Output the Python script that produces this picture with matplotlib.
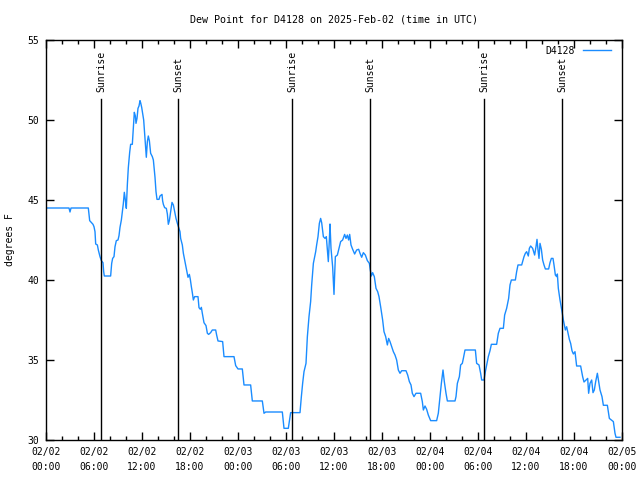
import matplotlib
matplotlib.use("Agg")
import matplotlib.pyplot as plt
import matplotlib.dates as mdates
import pandas as pd

BLUE = "#1a8cff"
plt.rcParams.update({
    "font.family": "DejaVu Sans Mono", "font.size": 7,
    "axes.linewidth": 1.0,
})

start = pd.Timestamp("2025-02-02 00:00")

# hours since 02/02 00:00 UTC, dew point in F
hours = [0.0, 2.875, 3.0, 3.125, 5.29, 5.46, 5.875, 6.0, 6.125, 6.21, 6.42, 6.54,
         6.75, 6.92, 7.125, 7.21, 7.29, 8.08, 8.21, 8.33, 8.5, 8.625, 8.79, 9.0,
         9.125, 9.25, 9.42, 9.54, 9.67, 9.79, 9.92, 10.04, 10.17, 10.29, 10.46,
         10.58, 10.79, 10.92, 11.04, 11.17, 11.25, 11.375, 11.5, 11.625, 11.75,
         11.83, 11.96, 12.08, 12.21, 12.33, 12.46, 12.54, 12.67, 12.79, 12.92,
         13.0, 13.08, 13.29, 13.42, 13.5, 13.625, 13.75, 13.875, 14.125, 14.25,
         14.5, 14.58, 14.67, 14.83, 15.04, 15.17, 15.29, 15.42, 15.58, 15.75,
         15.92, 16.08, 16.25, 16.42, 16.58, 16.75, 16.83, 17.04, 17.17, 17.33,
         17.46, 17.58, 17.75, 17.92, 18.04, 18.17, 18.29, 18.42, 18.58, 19.0,
         19.125, 19.29, 19.42, 19.54, 19.75, 20.0, 20.17, 20.33, 20.58, 20.79,
         21.21, 21.33, 21.5, 22.08, 22.25, 23.5, 23.71, 24.0, 24.54, 24.75,
         25.58, 25.79, 27.04, 27.25, 27.46, 29.54, 29.75, 30.29, 30.58, 31.75,
         31.92, 32.08, 32.25, 32.5, 32.67, 32.875, 33.08, 33.21, 33.42, 33.58,
         33.71, 33.83, 34.0, 34.17, 34.33, 34.46, 34.67, 34.875, 35.04, 35.21,
         35.29, 35.42, 35.5, 35.625, 35.83, 36.0, 36.08, 36.17, 36.42, 36.67,
         36.83, 37.08, 37.33, 37.5, 37.67, 37.83, 37.96, 38.125, 38.33, 38.58,
         38.83, 39.08, 39.25, 39.46, 39.67, 39.92, 40.17, 40.42, 40.54, 40.67,
         40.83, 41.04, 41.25, 41.46, 41.625, 41.83, 42.08, 42.25, 42.46, 42.67,
         42.83, 43.0, 43.21, 43.42, 43.625, 43.83, 44.04, 44.25, 44.46, 45.0,
         45.21, 45.42, 45.625, 45.79, 46.0, 46.25, 46.83, 47.04, 47.17, 47.375,
         47.58, 47.79, 48.08, 48.83, 49.04, 49.25, 49.42, 49.625, 49.79, 50.0,
         50.17, 51.125, 51.25, 51.42, 51.67, 51.83, 52.04, 52.17, 52.375, 53.67,
         53.83, 54.125, 54.33, 54.46, 54.75, 54.92, 55.08, 55.29, 55.5, 55.67,
         56.33, 56.54, 56.75, 57.17, 57.33, 57.58, 57.83, 58.0, 58.17, 58.67,
         58.83, 59.0, 59.46, 59.58, 59.75, 59.92, 60.08, 60.29, 60.42, 60.58,
         60.83, 61.08, 61.25, 61.375, 61.5, 61.625, 61.75, 61.92, 62.08, 62.25,
         62.42, 62.83, 63.0, 63.17, 63.375, 63.5, 63.67, 63.83, 63.92, 64.04,
         64.25, 64.54, 64.67, 64.92, 65.08, 65.25, 65.42, 65.58, 65.75, 65.92,
         66.125, 66.33, 66.83, 67.08, 67.25, 67.5, 67.71, 67.83, 68.0, 68.21,
         68.375, 68.54, 68.71, 68.92, 69.08, 69.25, 69.5, 69.67, 70.17, 70.42,
         70.92, 71.125, 71.25, 71.75]
dewpoint = [44.5, 44.5, 44.25, 44.5, 44.5, 43.71, 43.48, 43.33, 43.02, 42.25, 42.19,
            41.875, 41.46, 41.21, 41.08, 40.52, 40.25, 40.25, 41.04, 41.35, 41.46,
            42.08, 42.46, 42.5, 42.77, 43.29, 43.75, 44.27, 44.79, 45.48, 45.0,
            44.48, 45.98, 47.02, 47.98, 48.48, 48.48, 49.58, 50.48, 50.25, 49.79,
            50.1, 50.73, 50.875, 51.21, 51.08, 50.79, 50.42, 50.0, 49.17, 48.23,
            47.67, 48.65, 49.0, 48.71, 48.29, 47.92, 47.71, 47.5, 47.08, 46.42,
            45.52, 45.04, 45.04, 45.25, 45.35, 44.94, 44.73, 44.52, 44.48, 44.125,
            43.48, 43.71, 44.27, 44.85, 44.69, 44.27, 43.85, 43.54, 43.29, 43.02,
            42.6, 42.19, 41.67, 41.25, 40.9, 40.58, 40.17, 40.35, 40.04, 39.58,
            39.21, 38.75, 38.96, 38.96, 38.27, 38.17, 38.29, 37.92, 37.33, 37.15,
            36.67, 36.6, 36.71, 36.875, 36.875, 36.56, 36.19, 36.15, 35.21, 35.21,
            34.65, 34.44, 34.44, 33.44, 33.44, 32.44, 32.44, 31.67, 31.75, 31.75,
            30.73, 30.73, 31.71, 31.71, 32.71, 33.54, 34.27, 34.79, 36.46, 37.71,
            38.65, 39.69, 41.04, 41.46, 41.77, 42.19, 42.71, 43.54, 43.85, 43.58,
            42.71, 42.6, 42.71, 41.67, 41.15, 42.5, 43.5, 41.98, 40.83, 39.1,
            40.31, 41.46, 41.56, 42.08, 42.4, 42.5, 42.85, 42.6, 42.81, 42.5,
            42.85, 42.19, 41.92, 41.625, 41.875, 41.92, 41.67, 41.42, 41.71, 41.56,
            41.21, 41.04, 40.625, 40.25, 40.46, 40.21, 39.48, 39.27, 38.96, 38.33,
            37.5, 36.77, 36.46, 35.94, 36.35, 36.15, 35.83, 35.52, 35.31, 35.0,
            34.375, 34.17, 34.33, 34.33, 34.06, 33.65, 33.44, 32.92, 32.71, 32.92,
            32.92, 32.4, 31.875, 32.125, 31.92, 31.56, 31.21, 31.21, 31.67, 32.71,
            33.54, 34.375, 33.65, 32.92, 32.44, 32.44, 32.71, 33.54, 33.96, 34.69,
            34.79, 35.1, 35.625, 35.625, 34.79, 34.69, 34.17, 33.75, 33.75, 34.27,
            34.69, 35.21, 35.58, 35.98, 35.98, 36.67, 36.98, 36.98, 37.81, 38.23,
            38.85, 39.69, 40.0, 40.0, 40.52, 40.94, 40.94, 41.15, 41.46, 41.67,
            41.77, 41.5, 41.98, 42.125, 41.98, 41.56, 42.08, 42.54, 41.875, 41.35,
            42.29, 41.92, 41.25, 40.94, 40.69, 40.69, 41.08, 41.35, 41.35, 40.94,
            40.31, 40.21, 40.375, 39.48, 38.75, 37.92, 37.5, 36.875, 37.08, 36.67,
            36.29, 36.04, 35.58, 35.375, 35.52, 34.625, 34.625, 33.96, 33.625, 33.75,
            33.85, 32.92, 33.54, 33.75, 32.96, 33.125, 33.65, 34.17, 33.65, 33.125,
            32.71, 32.17, 32.17, 31.35, 31.15, 30.42, 30.17, 30.17]

sunrise = ["2025-02-02 06:55", "2025-02-03 06:47", "2025-02-04 06:47"]
sunset = ["2025-02-02 16:32", "2025-02-03 16:32", "2025-02-04 16:32"]

times = start + pd.to_timedelta(hours, unit="h")

fig = plt.figure(figsize=(6.4, 4.8), dpi=100)
ax = fig.add_axes([46/640, 40/480, 576/640, 400/480])

ax.plot(times, dewpoint, color=BLUE, lw=1.0, label="D4128")

for lab, ts in (("Sunrise", sunrise), ("Sunset", sunset)):
    for t in ts:
        t = pd.Timestamp(t)
        ax.plot([t, t], [30, 51.31], color="black", lw=1.0)
        ax.text(t, 51.75, lab, rotation=90, ha="center", va="bottom")

ax.set_xlim(start, start + pd.Timedelta(days=3))
ax.set_ylim(30, 55)
ax.xaxis.set_major_locator(mdates.HourLocator(byhour=range(0, 24, 6)))
ax.xaxis.set_minor_locator(mdates.HourLocator(byhour=range(0, 24, 2)))
ax.xaxis.set_major_formatter(mdates.DateFormatter("%m/%d\n%H:%M"))
ax.set_yticks(range(30, 56, 5))
ax.tick_params(which="both", direction="in", top=True, right=True, width=1.0)
ax.tick_params(which="major", length=6, pad=5)
ax.tick_params(which="minor", length=3)
for lbl in ax.get_xticklabels():
    lbl.set_linespacing(1.6)

ax.set_ylabel("degrees F", labelpad=9)
fig.text(334/640, 1 - 19/480, "Dew Point for D4128 on 2025-Feb-02 (time in UTC)",
         ha="center", va="center", fontsize=7.2)
ax.legend(loc="upper right", frameon=False, markerfirst=False, handlelength=2.9,
          bbox_to_anchor=(0.993, 1.003), borderaxespad=0.3, handletextpad=0.8)

fig.savefig("out.png", dpi=100)
